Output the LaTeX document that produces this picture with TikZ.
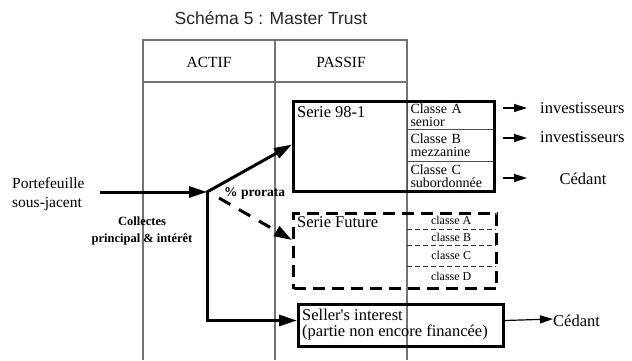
\documentclass[tikz,border=0pt]{standalone}
\usepackage{fontspec}
\setmainfont{Liberation Serif}
\newfontfamily\titlefont{Liberation Sans}
\usetikzlibrary{arrows.meta}
\begin{document}
\begin{tikzpicture}[x=1pt,y=-1pt,
  gridline/.style={draw=black!55, line width=1.2pt},
  bigbox/.style={draw, line width=3pt, inner sep=0pt},
  dbox/.style={draw, line width=3pt, inner sep=0pt, dash pattern=on 12pt off 7pt},
  cellA/.style={draw=black!70, line width=1pt, inner xsep=3pt, inner ysep=1pt, text width=80pt, align=left,
    minimum width=86pt, font=\fontsize{14}{13}\selectfont},
  cellF/.style={inner sep=0pt, minimum width=88pt, font=\fontsize{12}{12}\selectfont},
  thindash/.style={draw=black!80, line width=0.9pt, dash pattern=on 5pt off 3pt},
  lbl/.style={inner sep=0pt, font=\fontsize{16.5}{18}\selectfont},
  flow/.style={line width=3pt, -{Triangle[length=18pt,width=11pt]}},
  outarrow/.style={line width=1.2pt, -{Triangle[length=13pt,width=8pt]}},
]
\useasboundingbox (0,0) rectangle (632,360);
% title
\node[font=\titlefont\fontsize{17.5}{20}\selectfont, text=black!85] (title) at (271,18) {Schéma 5 : Master Trust};
% table
\draw[gridline] (143,360) -- (143,40) -- (407,40) -- (407,360);
\draw[gridline] (275,40) -- (275,360);
\draw[gridline] (143,82) -- (407,82);
\node[font=\fontsize{15.5}{18}\selectfont] (actif) at (209,62) {ACTIF};
\node[font=\fontsize{15.5}{18}\selectfont] (passif) at (341,62) {PASSIF};

% Serie 98-1
\node[cellA, minimum height=29pt, anchor=north west] (ca) at (407,100) {Classe A\\senior};
\node[cellA, minimum height=32pt, anchor=north west] (cb) at (407,129) {Classe B\\mezzanine};
\node[cellA, minimum height=29pt, anchor=north west] (cc) at (407,161) {Classe C\\subordonnée};
\node[bigbox, minimum width=201pt, minimum height=90pt, anchor=north west] (s98) at (292,100) {};
\node[lbl, anchor=north west] (s98lbl) at (297,106) {Serie 98-1};

\node[lbl, anchor=west] (inv1) at (540,108) {investisseurs};
\node[lbl, anchor=west] (inv2) at (540,137) {investisseurs};
\node[lbl] (ced1) at (583,179) {Cédant};
\draw[outarrow] ([xshift=9pt]ca.east |- inv1) -- (inv1.west -| 527,0);
\draw[outarrow] ([xshift=9pt]cb.east |- 0,138) -- (527,138);
\draw[outarrow] ([xshift=9pt]cc.east |- 0,178) -- (527,178);

% Serie Future
\node[cellF, minimum height=17pt, anchor=north west] (fa) at (407,212) {classe A};
\node[cellF, minimum height=16pt, anchor=north west] (fb) at (407,229) {classe B};
\node[cellF, minimum height=21pt, anchor=north west] (fc) at (407,245) {classe C};
\node[cellF, minimum height=21pt, anchor=north west] (fd) at (407,266) {classe D};
\draw[thindash] (fa.south west) -- (fa.south east);
\draw[thindash] (fb.south west) -- (fb.south east);
\draw[thindash] (fc.south west) -- (fc.south east);
\node[dbox, minimum width=203pt, minimum height=75pt, anchor=north west] (sfut) at (292,212) {};
\node[lbl, anchor=north west] (sfutlbl) at (297,216) {Serie Future};

% Seller's interest
\node[bigbox, minimum width=205pt, minimum height=42pt, anchor=north west] (seller) at (297,303) {};
\node[anchor=north west, inner sep=0pt, align=left, font=\fontsize{16.5}{16}\selectfont] (sellerlbl) at (302,309) {Seller\textquotesingle s interest\\(partie non encore financée)};
\node[lbl, anchor=west] (ced2) at (553,321) {Cédant};
\draw[outarrow] ([yshift=5pt]seller.east) -- (ced2.west |- 0,319);

% left side
\node[anchor=west, inner sep=0pt, align=left, font=\fontsize{15.5}{19}\selectfont] (port) at (12,194) {Portefeuille\\sous-jacent};
\coordinate (split) at (207,192);
\draw[flow] ([xshift=15pt]port.east |- split) -- (split);
\draw[flow, shorten <=-1pt] (split) -- ([yshift=2pt]s98.west);
\draw[flow, dash pattern=on 13pt off 10pt] ([xshift=12pt,yshift=-6pt]split) -- ([yshift=11pt]sfut.west);
\draw[flow, line join=miter] (split) |- ([yshift=5pt]seller.west);
\node[anchor=west, inner sep=0pt, font=\bfseries\fontsize{13.5}{14}\selectfont] (pror) at (224,193) {\% prorata};
\node[inner sep=0pt, align=center, font=\bfseries\fontsize{12.5}{17}\selectfont] (coll) at (142,231) {Collectes\\principal \& intérêt};
\end{tikzpicture}
\end{document}
